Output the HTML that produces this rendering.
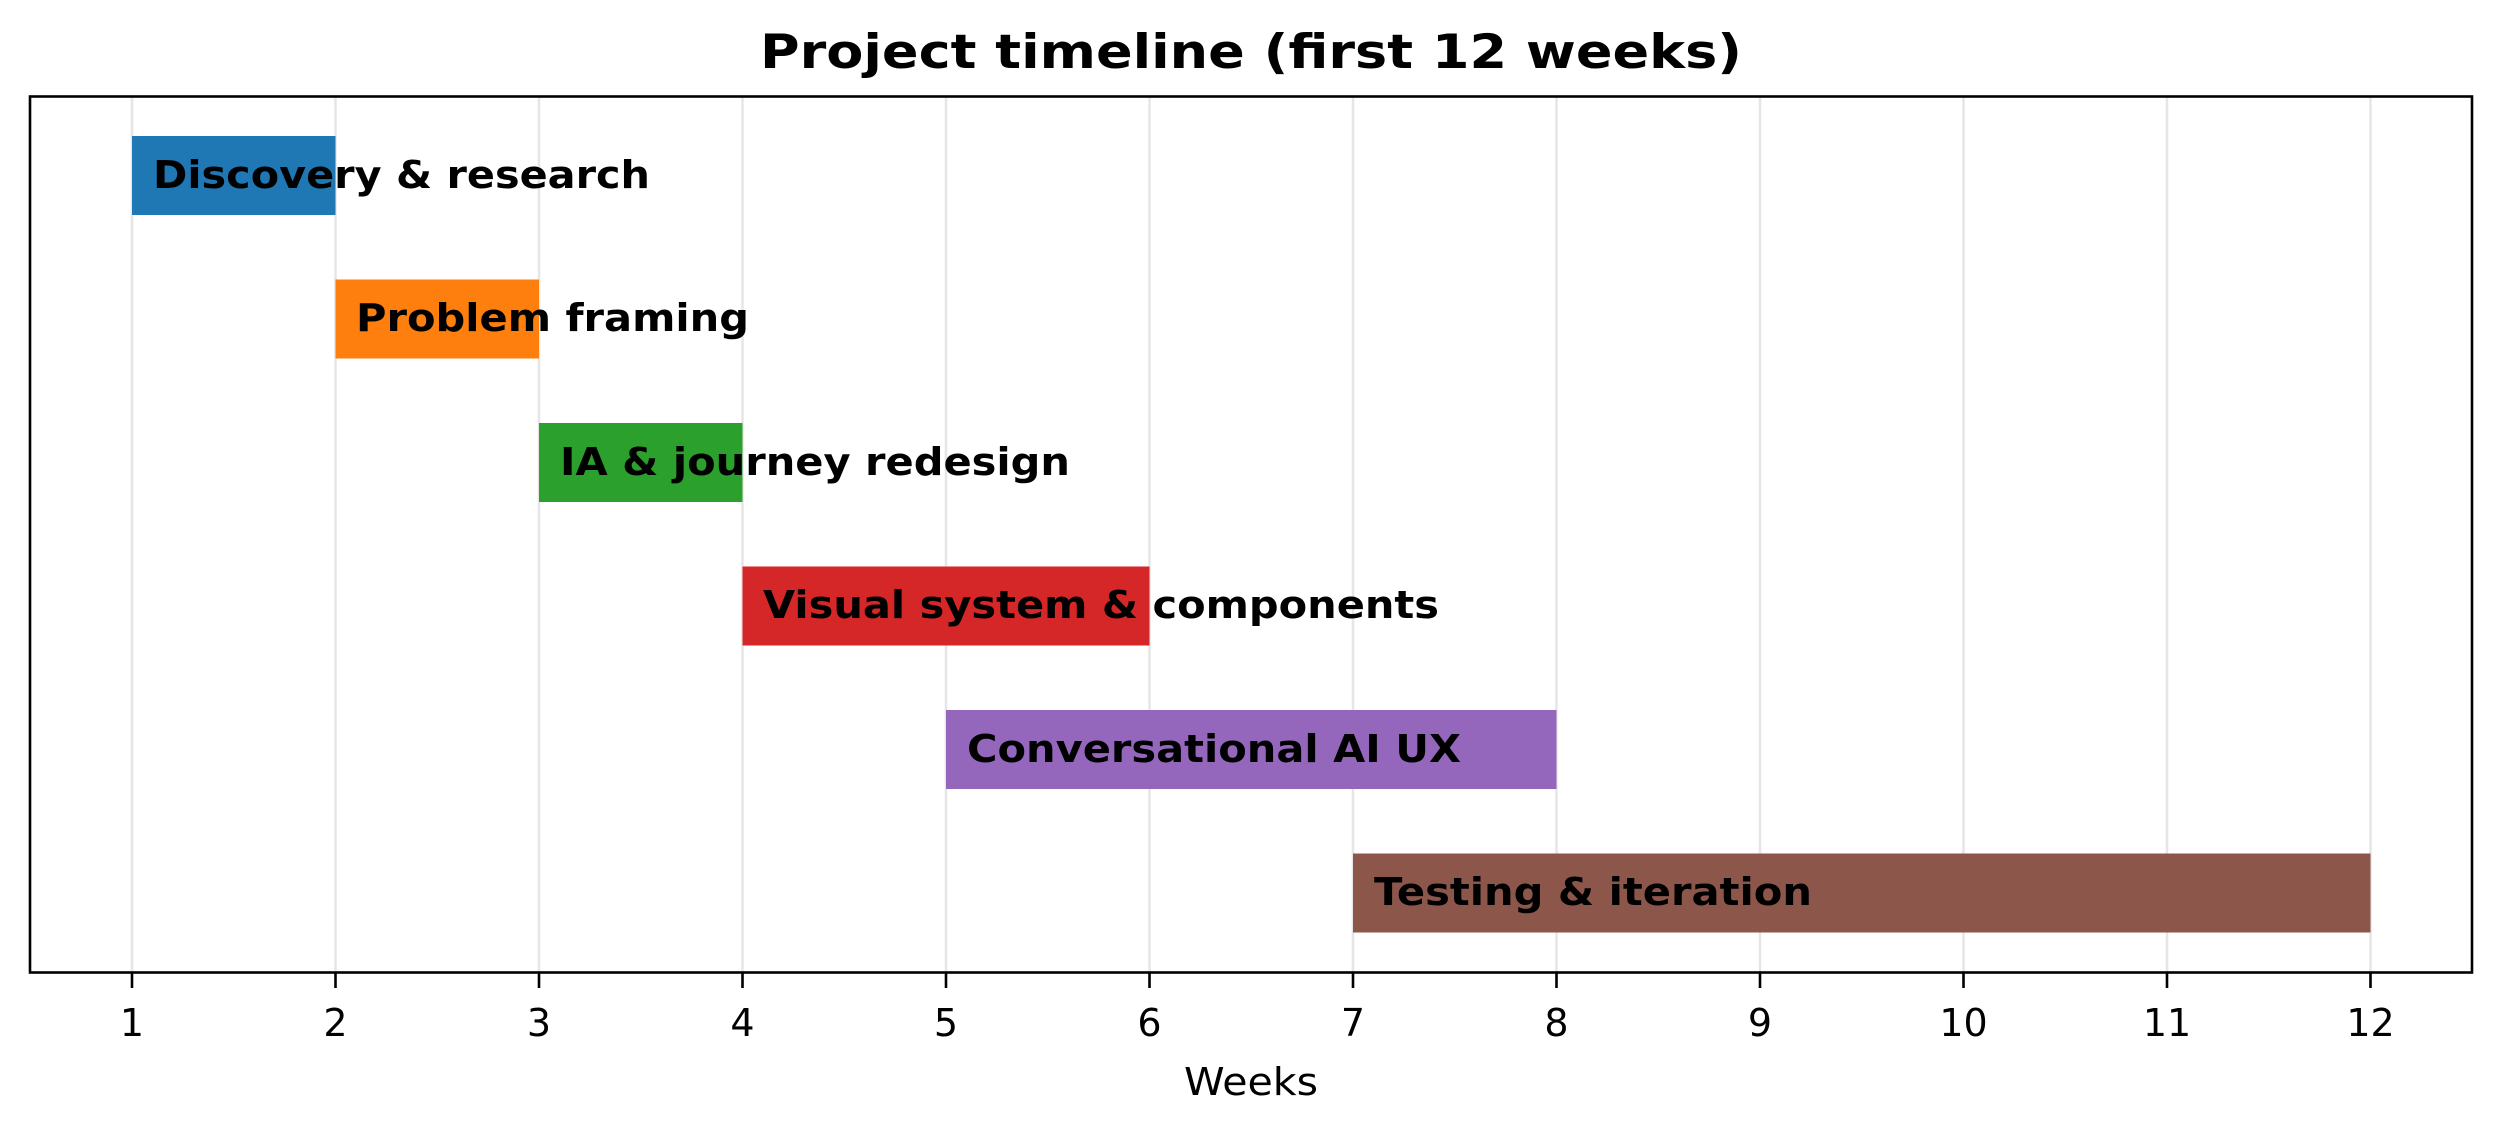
<!DOCTYPE html>
<html><head><meta charset="utf-8"><style>html,body{margin:0;padding:0;background:#fff}svg{display:block}</style></head>
<body>
<svg width="2501" height="1133" viewBox="0 0 2501 1133" xmlns="http://www.w3.org/2000/svg" font-family="'DejaVu Sans','Liberation Sans',sans-serif">
<rect width="2501" height="1133" fill="#fff"/>
<g stroke="#e6e6e6" stroke-width="2.5">
<line x1="132" y1="97" x2="132" y2="972"/>
<line x1="335.5" y1="97" x2="335.5" y2="972"/>
<line x1="539" y1="97" x2="539" y2="972"/>
<line x1="742.5" y1="97" x2="742.5" y2="972"/>
<line x1="946" y1="97" x2="946" y2="972"/>
<line x1="1149.5" y1="97" x2="1149.5" y2="972"/>
<line x1="1353" y1="97" x2="1353" y2="972"/>
<line x1="1556.5" y1="97" x2="1556.5" y2="972"/>
<line x1="1760" y1="97" x2="1760" y2="972"/>
<line x1="1963.5" y1="97" x2="1963.5" y2="972"/>
<line x1="2167" y1="97" x2="2167" y2="972"/>
<line x1="2370.5" y1="97" x2="2370.5" y2="972"/>
</g>
<rect x="132" y="136" width="203.5" height="79" fill="#1f77b4"/>
<rect x="335.5" y="279.5" width="203.5" height="79" fill="#ff7f0e"/>
<rect x="539" y="423" width="203.5" height="79" fill="#2ca02c"/>
<rect x="742.5" y="566.5" width="407" height="79" fill="#d62728"/>
<rect x="946" y="710" width="610.5" height="79" fill="#9467bd"/>
<rect x="1353" y="853.5" width="1017.5" height="79" fill="#8c564b"/>
<g font-weight="bold" font-size="38" fill="#000">
<text x="153" y="188" textLength="497" lengthAdjust="spacingAndGlyphs">Discovery &amp; research</text>
<text x="356" y="331" textLength="393" lengthAdjust="spacingAndGlyphs">Problem framing</text>
<text x="560" y="475" textLength="510" lengthAdjust="spacingAndGlyphs">IA &amp; journey redesign</text>
<text x="763" y="618" textLength="676" lengthAdjust="spacingAndGlyphs">Visual system &amp; components</text>
<text x="967" y="762" textLength="494" lengthAdjust="spacingAndGlyphs">Conversational AI UX</text>
<text x="1374" y="905" textLength="438" lengthAdjust="spacingAndGlyphs">Testing &amp; iteration</text>
</g>
<rect x="30" y="96.5" width="2442" height="876" fill="none" stroke="#000" stroke-width="2.6"/>
<g stroke="#000" stroke-width="2.6">
<line x1="132" y1="973" x2="132" y2="988"/>
<line x1="335.5" y1="973" x2="335.5" y2="988"/>
<line x1="539" y1="973" x2="539" y2="988"/>
<line x1="742.5" y1="973" x2="742.5" y2="988"/>
<line x1="946" y1="973" x2="946" y2="988"/>
<line x1="1149.5" y1="973" x2="1149.5" y2="988"/>
<line x1="1353" y1="973" x2="1353" y2="988"/>
<line x1="1556.5" y1="973" x2="1556.5" y2="988"/>
<line x1="1760" y1="973" x2="1760" y2="988"/>
<line x1="1963.5" y1="973" x2="1963.5" y2="988"/>
<line x1="2167" y1="973" x2="2167" y2="988"/>
<line x1="2370.5" y1="973" x2="2370.5" y2="988"/>
</g>
<g font-size="38" fill="#000" text-anchor="middle">
<text x="132" y="1036">1</text>
<text x="335.5" y="1036">2</text>
<text x="539" y="1036">3</text>
<text x="742.5" y="1036">4</text>
<text x="946" y="1036">5</text>
<text x="1149.5" y="1036">6</text>
<text x="1353" y="1036">7</text>
<text x="1556.5" y="1036">8</text>
<text x="1760" y="1036">9</text>
<text x="1963.5" y="1036">10</text>
<text x="2167" y="1036">11</text>
<text x="2370.5" y="1036">12</text>
<text x="1251" y="1095" textLength="134" lengthAdjust="spacingAndGlyphs">Weeks</text>
</g>
<text x="1251" y="68" text-anchor="middle" font-size="47" font-weight="bold" textLength="982" lengthAdjust="spacingAndGlyphs">Project timeline (first 12 weeks)</text>
</svg>
</body></html>
